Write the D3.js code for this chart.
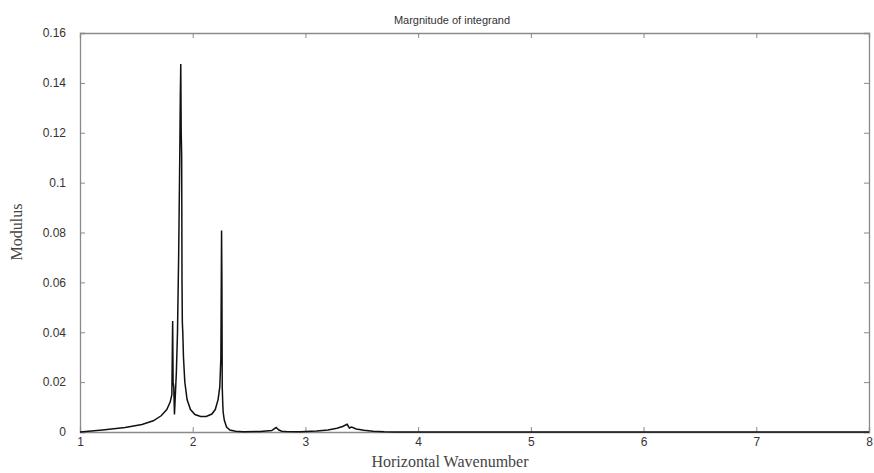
<!DOCTYPE html>
<html>
<head>
<meta charset="utf-8">
<script src="https://cdn.jsdelivr.net/npm/d3@7"></script>
<style>
  body { margin: 0; background: #fff; }
  svg { display: block; }
</style>
</head>
<body>
<div id="main"></div>
<script>
// wavenumber samples and modulus
var kVals = [1.0, 1.2, 1.4, 1.55, 1.65, 1.72, 1.77, 1.80, 1.815, 1.822, 1.826, 1.832, 1.838, 1.845,
  1.855, 1.865, 1.875, 1.885, 1.890, 1.894, 1.898, 1.902, 1.905, 1.908, 1.912, 1.918, 1.93, 1.95,
  1.98, 2.02, 2.07, 2.12, 2.17, 2.20, 2.225, 2.240, 2.250, 2.256, 2.259, 2.262, 2.266, 2.270,
  2.28, 2.30, 2.33, 2.38, 2.45, 2.6, 2.70, 2.74, 2.765, 2.79, 2.83, 2.95, 3.1, 3.2, 3.28, 3.33,
  3.37, 3.39, 3.41, 3.45, 3.52, 3.6, 3.7, 3.8, 4.5, 5.5, 6.5, 7.5, 8.0];
var modVals = [0.0, 0.0008, 0.0018, 0.003, 0.0045, 0.0065, 0.009, 0.012, 0.015, 0.0445, 0.020, 0.018, 0.007, 0.014,
  0.024, 0.040, 0.070, 0.110, 0.135, 0.1476, 0.120, 0.111, 0.060, 0.044, 0.040, 0.030, 0.020, 0.013,
  0.009, 0.007, 0.0062, 0.0062, 0.0072, 0.009, 0.013, 0.018, 0.030, 0.0808, 0.060, 0.018, 0.012, 0.008,
  0.0048, 0.002, 0.0008, 0.0003, 0.0001, 0.0002, 0.0006, 0.0018, 0.0008, 0.0003, 0.0002, 0.0001, 0.0004, 0.0008, 0.0015, 0.0022,
  0.0031, 0.0016, 0.002, 0.0012, 0.0007, 0.0003, 0.0001, 0.0, 0.0, 0.0, 0.0, 0.0, 0.0];
var xTicks = [1, 2, 3, 4, 5, 6, 7, 8];
var yTicks = [0, 0.02, 0.04, 0.06, 0.08, 0.1, 0.12, 0.14, 0.16];

var ctx = {
    w: 874,
    h: 473,
    left: 80,
    right: 869,
    top: 33,
    bottom: 432
};

var createViz = function(){
    var svgEl = d3.select("#main").append("svg")
        .attr("width", ctx.w)
        .attr("height", ctx.h);
    var x = d3.scaleLinear().domain([1, 8]).range([ctx.left, ctx.right]);
    var y = d3.scaleLinear().domain([0, 0.16]).range([ctx.bottom, ctx.top]);

    // frame and ticks (all ticks point inwards)
    var axisG = svgEl.append("g").attr("class", "axes");
    axisG.append("g")
        .attr("transform", "translate(0," + ctx.bottom + ")")
        .call(d3.axisBottom(x).tickValues(xTicks).tickFormat(d3.format("d")).tickSize(-5).tickPadding(5));
    axisG.append("g")
        .attr("transform", "translate(0," + ctx.top + ")")
        .call(d3.axisTop(x).tickValues(xTicks).tickSize(-5).tickFormat(""));
    axisG.append("g")
        .attr("transform", "translate(" + ctx.left + ",0)")
        .call(d3.axisLeft(y).tickValues(yTicks).tickFormat(function(d){ return d === 0 ? "0" : d3.format("")(+d.toFixed(2)); }).tickSize(-5).tickPadding(14));
    axisG.append("g")
        .attr("transform", "translate(" + ctx.right + ",0)")
        .call(d3.axisRight(y).tickValues(yTicks).tickSize(-5).tickFormat(""));
    axisG.selectAll("path.domain").style("stroke", "#8a8a8a").style("stroke-width", 1.3);
    axisG.selectAll(".tick line").style("stroke", "#8a8a8a");
    axisG.selectAll(".tick text")
        .style("font-family", "Liberation Sans, Arial, sans-serif")
        .style("font-size", "12px")
        .style("fill", "#333");

    // the modulus curve
    var pts = kVals.map(function(k, i){ return [k, modVals[i]]; });
    var line = d3.line()
        .x(function(d){ return x(d[0]); })
        .y(function(d){ return y(d[1]); });
    svgEl.append("path")
        .datum(pts)
        .attr("d", line)
        .style("fill", "none")
        .style("stroke", "#111")
        .style("stroke-width", 1.5)
        .style("stroke-linejoin", "miter");

    // title
    svgEl.append("text")
        .attr("x", 452)
        .attr("y", 24)
        .style("text-anchor", "middle")
        .style("font-family", "Liberation Sans, Arial, sans-serif")
        .style("font-size", "11px")
        .style("fill", "#333")
        .text("Margnitude of integrand");
    // x-axis label
    svgEl.append("text")
        .attr("x", 450)
        .attr("y", 467)
        .style("text-anchor", "middle")
        .style("font-family", "Liberation Serif, Times New Roman, serif")
        .style("font-size", "16px")
        .style("fill", "#444")
        .text("Horizontal Wavenumber");
    // y-axis label
    svgEl.append("text")
        .attr("transform", "translate(22,232) rotate(-90)")
        .style("text-anchor", "middle")
        .style("font-family", "Liberation Serif, Times New Roman, serif")
        .style("font-size", "16px")
        .style("fill", "#444")
        .text("Modulus");
};

createViz();
</script>
</body>
</html>
